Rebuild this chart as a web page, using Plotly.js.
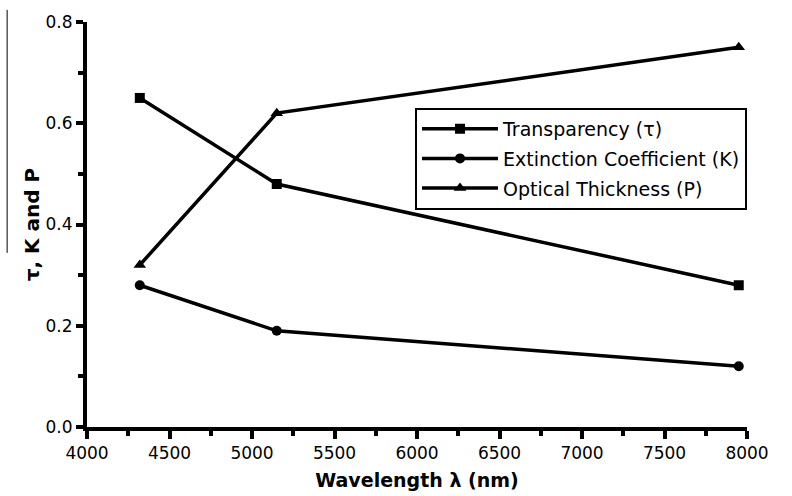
<!DOCTYPE html>
<html>
<head>
<meta charset="utf-8">
<script src="https://cdn.plot.ly/plotly-3.0.1.min.js"></script>
<style>
html,body{margin:0;padding:0;background:#fff;}
#chart{width:792px;height:496px;}
</style>
</head>
<body>
<div id="chart"></div>
<script>
const wavelength = [4320, 5150, 7950];
const transparency = [0.65, 0.48, 0.28];
const extinction = [0.28, 0.19, 0.12];
const optical = [0.32, 0.62, 0.75];
const seriesNames = ['Transparency (τ)', 'Extinction Coefficient (K)', 'Optical Thickness (P)'];
const xTicks = [4000, 4500, 5000, 5500, 6000, 6500, 7000, 7500, 8000];
const yTicks = [0.0, 0.2, 0.4, 0.6, 0.8];

const lineStyle = {color: '#000', width: 3.5};
const traces = [
  {x: wavelength, y: transparency, name: seriesNames[0], mode: 'lines+markers', legendgroup: 'a',
   line: lineStyle, marker: {symbol: 'square', size: 10, color: '#000'}},
  {x: wavelength, y: extinction, name: seriesNames[1], mode: 'lines+markers', legendgroup: 'b',
   line: lineStyle, marker: {symbol: 'circle', size: 10, color: '#000'}},
  {x: wavelength, y: optical, name: seriesNames[2], mode: 'lines+markers', legendgroup: 'c',
   line: lineStyle, marker: {symbol: 'triangle-up', size: 11, color: '#000'}}
];

const layout = {
  width: 792, height: 496,
  margin: {l: 87, r: 45, t: 22, b: 69},
  paper_bgcolor: '#fff', plot_bgcolor: '#fff',
  font: {family: 'DejaVu Sans, Arial, sans-serif', size: 17, color: '#000'},
  showlegend: true,
  legend: {x: 0.497, y: 0.788, xanchor: 'left', yanchor: 'top',
           bordercolor: '#000', borderwidth: 2, bgcolor: '#fff',
           font: {family: 'DejaVu Sans, Arial, sans-serif', size: 19},
           tracegroupgap: 2, itemwidth: 76},
  xaxis: {
    range: [4000, 8000], tickvals: xTicks, ticktext: xTicks.map(String),
    showgrid: false, zeroline: false, showline: true, linecolor: '#000', linewidth: 4,
    ticks: 'outside', ticklen: 8, tickwidth: 4, tickcolor: '#000',
    minor: {dtick: 250, ticks: 'outside', ticklen: 5, tickwidth: 4, tickcolor: '#000', showgrid: false},
    tickfont: {size: 17},
    title: {text: '<b>Wavelength λ (nm)</b>', font: {family: 'DejaVu Sans, Arial, sans-serif', size: 19}, standoff: 12}
  },
  yaxis: {
    range: [0, 0.8], tickvals: yTicks, ticktext: yTicks.map(v => v.toFixed(1)),
    showgrid: false, zeroline: false, showline: true, linecolor: '#000', linewidth: 4,
    ticks: 'outside', ticklen: 7, tickwidth: 4, tickcolor: '#000',
    minor: {dtick: 0.1, ticks: 'outside', ticklen: 5, tickwidth: 4, tickcolor: '#000', showgrid: false},
    tickfont: {size: 17},
    title: {text: '<b>τ, K and P</b>', font: {family: 'DejaVu Sans, Arial, sans-serif', size: 20}, standoff: 2}
  },
  shapes: [
    {type: 'line', xref: 'paper', yref: 'paper', x0: -0.121, x1: -0.121, y0: 1.03, y1: 0.43,
     line: {color: '#000', width: 1}}
  ]
};

Plotly.newPlot('chart', traces, layout, {displayModeBar: false, staticPlot: true});
</script>
</body>
</html>
